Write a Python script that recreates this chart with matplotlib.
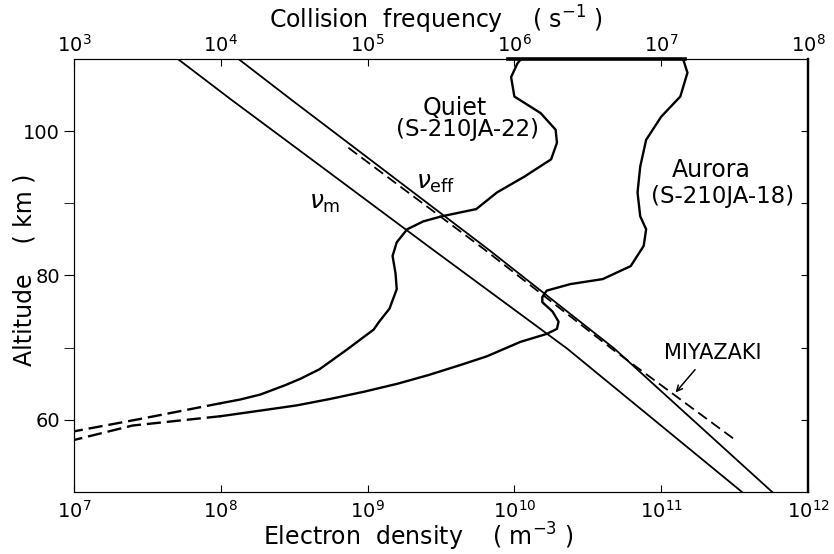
import numpy as np
import matplotlib.pyplot as plt
from matplotlib.ticker import NullLocator, FixedLocator

# electron density profiles (altitude km, density m^-3)
quiet_alt = [110, 109.4, 107.5, 104.8, 102.5, 100.2, 98.4, 96.1, 93.7, 91.5,
             89.2, 88.2, 87.5, 86.4, 84.6, 82.7, 80.3, 78.1, 75.4, 73.6,
             72.5, 69.7, 67.0, 65.7, 64.8, 63.5, 62.8, 62.3]
quiet_ne = [1.11e10, 1.05e10, 9.5e9, 1.0e10, 1.51e10, 1.91e10, 1.95e10, 1.78e10, 1.17e10, 7.6e9,
            5.5e9, 3.2e9, 2.4e9, 1.86e9, 1.58e9, 1.48e9, 1.55e9, 1.58e9, 1.41e9, 1.2e9,
            1.1e9, 7.2e8, 4.7e8, 3.5e8, 2.75e8, 1.86e8, 1.35e8, 1.0e8]
quiet_alt_dash = [62.3, 60.1, 58.4]
quiet_ne_dash = [1.0e8, 2.8e7, 1.0e7]

aurora_alt = [110, 108.1, 104.8, 102.0, 98.8, 95.1, 91.5, 88.2, 86.4, 84.1,
              81.3, 79.5, 78.8, 77.9, 77.0, 76.3, 75.0, 73.6, 72.6, 71.9,
              70.8, 68.8, 67.6, 66.2, 65.0, 63.9, 62.9, 62.0, 61.3, 60.5]
aurora_ne = [1.41e11, 1.51e11, 1.35e11, 1.0e11, 7.9e10, 7.2e10, 6.9e10, 7.2e10, 7.9e10, 7.6e10,
             6.2e10, 4.0e10, 2.4e10, 1.66e10, 1.55e10, 1.55e10, 1.82e10, 2.0e10, 1.95e10, 1.66e10,
             1.1e10, 6.5e9, 4.3e9, 2.6e9, 1.6e9, 9.5e8, 5.6e8, 3.3e8, 1.9e8, 1.0e8]
aurora_alt_dash = [60.5, 59.2, 57.2]
aurora_ne_dash = [1.0e8, 2.5e7, 1.0e7]

top_bar = [9.0e9, 1.45e11]

# collision frequencies (s^-1)
nu_alt = [110, 104.3, 96.07, 83.66, 69.86, 50]
nu_m = [5.1e3, 1.19e4, 4.17e4, 2.75e5, 2.29e6, 3.55e7]
nu_eff = [1.32e4, 3.05e4, 1.04e5, 6.6e5, 4.8e6, 5.7e7]
miyazaki_alt = [97.7, 83.66, 69.86, 57.2]
miyazaki_nu = [7.4e4, 6.2e5, 4.6e6, 3.2e7]

fig = plt.figure(figsize=(8.34, 5.54), dpi=100)
ax = fig.add_axes([0.0887, 0.112, 0.8801, 0.7815])

ax.set_xscale('log')
ax.set_xlim(1e7, 1e12)
ax.set_ylim(50, 110)

lw = 1.7
ax.plot(quiet_ne, quiet_alt, color='black', lw=lw)
ax.plot(quiet_ne_dash, quiet_alt_dash, color='black', lw=lw, dashes=(6, 2.5))
ax.plot(aurora_ne, aurora_alt, color='black', lw=lw)
ax.plot(aurora_ne_dash, aurora_alt_dash, color='black', lw=lw, dashes=(6, 2.5))
ax.plot(top_bar, [110, 110], color='black', lw=2.6, clip_on=False)

ax.set_xticks([1e7, 1e8, 1e9, 1e10, 1e11, 1e12])
ax.xaxis.set_minor_locator(NullLocator())
ax.tick_params(axis='x', which='major', direction='in', length=5, labelsize=14, pad=6)
ax.set_yticks([60, 80, 100])
ax.yaxis.set_minor_locator(FixedLocator([70, 90]))
ax.tick_params(axis='y', which='both', direction='out', length=7, labelsize=14, pad=3)
ax.set_xlabel('Electron  density    ( m$^{-3}$ )', fontsize=17, va='center')
ax.xaxis.set_label_coords(0.469, -0.104)
ax.set_ylabel('Altitude    ( km )', fontsize=17, va='center')
ax.yaxis.set_label_coords(-0.068, 0.513)

for s in ['left', 'top', 'bottom']:
    ax.spines[s].set_linewidth(0.8)
ax.spines['right'].set_linewidth(1.6)

sec = ax.secondary_yaxis('right')
sec.set_yticks([60, 70, 80, 90, 100])
sec.tick_params(direction='in', length=5, labelright=False)
sec.spines['right'].set_linewidth(1.6)

# top axis: collision frequency
ax2 = ax.twiny()
ax2.set_xscale('log')
ax2.set_xlim(1e3, 1e8)
ax2.plot(nu_m, nu_alt, color='black', lw=1.3)
ax2.plot(nu_eff, nu_alt, color='black', lw=1.3)
ax2.plot(miyazaki_nu, miyazaki_alt, color='black', lw=1.3, dashes=(6, 3))
ax2.set_xticks([1e3, 1e4, 1e5, 1e6, 1e7, 1e8])
ax2.xaxis.set_minor_locator(NullLocator())
ax2.tick_params(axis='x', which='major', direction='in', length=5, labelsize=14, pad=2)
ax2.set_xlabel('Collision  frequency    ( s$^{-1}$ )', fontsize=17, va='center')
ax2.xaxis.set_label_coords(0.493, 1.09)
ax2.spines['top'].set_linewidth(0.8)
ax2.spines['right'].set_visible(False)

# labels
ax.text(3.9e9, 103.2, 'Quiet', fontsize=17, ha='center', va='center')
ax.text(4.8e9, 100.2, '(S-210JA-22)', fontsize=16.5, ha='center', va='center')
ax.text(2.2e11, 94.55, 'Aurora', fontsize=17, ha='center', va='center')
ax.text(2.6e11, 91.0, '(S-210JA-18)', fontsize=16.5, ha='center', va='center')
ax.text(5.1e8, 90.0, r'$\nu_{\rm m}$', fontsize=18, ha='center', va='center')
ax.text(2.9e9, 92.76, r'$\nu_{\rm eff}$', fontsize=18, ha='center', va='center')
ax.text(2.25e11, 69.3, 'MIYAZAKI', fontsize=15, ha='center', va='center')
ax.annotate('', xy=(1.22e11, 63.5), xytext=(1.75e11, 67.24),
            arrowprops=dict(arrowstyle='->', color='black', lw=1.1))

fig.savefig('out.png', dpi=100)
